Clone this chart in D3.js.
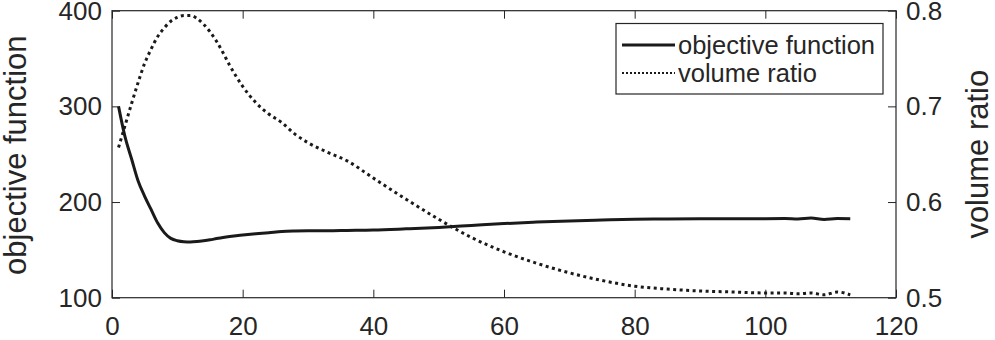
<!DOCTYPE html>
<html lang="en">
<head>
<meta charset="utf-8">
<title>objective function and volume ratio</title>
<script src="https://cdn.jsdelivr.net/npm/d3@7"></script>
<style>
  body { margin: 0; background: #fff; }
  svg text { font-family: "Liberation Sans", Arial, Helvetica, sans-serif; fill: #262626; }
</style>
</head>
<body>
<script>
    var iterations = [1, 2, 3, 4, 5, 6, 7, 8, 9, 10, 11, 12, 13, 14, 15, 16, 17, 18, 20, 22, 24, 26, 28, 30,
                      33, 36, 40, 45, 50, 55, 60, 65, 70, 75, 80, 85, 90, 95, 100, 103, 105, 107, 109, 111, 113];

    var objective = [300, 268, 245, 222, 206, 192, 178, 168, 162, 159.5, 158.5, 158.3, 158.7, 159.5, 160.5, 161.8, 163, 164,
                     165.5, 166.8, 168, 169.3, 169.8, 170, 170, 170.3, 170.7, 172, 173.5, 175.5, 177.5, 179, 180.3, 181.2,
                     182, 182.3, 182.5, 182.6, 182.6, 182.7, 182.2, 183.2, 181.8, 182.8, 182.6];

    var volumeRatio = [0.657, 0.680, 0.703, 0.725, 0.745, 0.760, 0.773, 0.782, 0.789, 0.793, 0.795, 0.795, 0.792, 0.786,
                       0.778, 0.768, 0.756, 0.743, 0.721, 0.704, 0.692, 0.683, 0.671, 0.662, 0.652, 0.643, 0.625, 0.603,
                       0.582, 0.563, 0.548, 0.536, 0.526, 0.518, 0.512, 0.509, 0.507, 0.506, 0.505, 0.505, 0.504, 0.505,
                       0.503, 0.506, 0.503];

    var xTicks = [0, 20, 40, 60, 80, 100, 120];
    var leftTicks = [100, 200, 300, 400];
    var rightTicks = [0.5, 0.6, 0.7, 0.8];

    var seriesNames = ["objective function", "volume ratio"];

    var w = 995, h = 340;
    var plotLeft = 112, plotRight = 896, plotTop = 10.7, plotBottom = 297.7;
    var ink = "#262626";

    var svg = d3.select("body").append("svg")
                .attr("width", w)
                .attr("height", h);

    var xScale = d3.scaleLinear().domain([0, 120]).range([plotLeft, plotRight]);
    var yLeft = d3.scaleLinear().domain([100, 400]).range([plotBottom, plotTop]);
    var yRight = d3.scaleLinear().domain([0.5, 0.8]).range([plotBottom, plotTop]);

    // axes, ticks pointing inward
    function styleAxis(g) {
        g.select(".domain").remove();
        g.selectAll("line").attr("stroke", ink).attr("stroke-width", 1);
        g.selectAll("text").attr("font-size", "26px").attr("fill", ink);
    }

    svg.append("g")
       .attr("transform", "translate(0," + plotBottom + ")")
       .call(d3.axisBottom(xScale).tickValues(xTicks).tickSize(-8).tickPadding(19).tickFormat(d3.format("d")))
       .call(styleAxis);

    svg.append("g")
       .attr("transform", "translate(0," + plotTop + ")")
       .call(d3.axisTop(xScale).tickValues(xTicks).tickSize(-8).tickFormat(""))
       .call(styleAxis);

    svg.append("g")
       .attr("transform", "translate(" + plotLeft + ",0)")
       .call(d3.axisLeft(yLeft).tickValues(leftTicks).tickSize(-8).tickPadding(10).tickFormat(d3.format("d")))
       .call(styleAxis);

    svg.append("g")
       .attr("transform", "translate(" + plotRight + ",0)")
       .call(d3.axisRight(yRight).tickValues(rightTicks).tickSize(-8).tickPadding(10).tickFormat(d3.format(".1f")))
       .call(styleAxis);

    // box
    svg.append("rect")
       .attr("x", plotLeft).attr("y", plotTop)
       .attr("width", plotRight - plotLeft).attr("height", plotBottom - plotTop)
       .attr("fill", "none").attr("stroke", ink).attr("stroke-width", 1.2);

    // lines
    var objLine = d3.line()
                    .x(function(d, i) { return xScale(iterations[i]); })
                    .y(function(d) { return yLeft(d); })
                    .curve(d3.curveMonotoneX);

    var volLine = d3.line()
                    .x(function(d, i) { return xScale(iterations[i]); })
                    .y(function(d) { return yRight(d); })
                    .curve(d3.curveMonotoneX);

    svg.append("path")
       .attr("d", objLine(objective))
       .attr("fill", "none").attr("stroke", "#1a1a1a").attr("stroke-width", 3);

    svg.append("path")
       .attr("d", volLine(volumeRatio))
       .attr("fill", "none").attr("stroke", "#1a1a1a").attr("stroke-width", 3)
       .attr("stroke-dasharray", "3,3.5");

    // axis labels
    svg.append("text")
       .attr("transform", "translate(26," + ((plotTop + plotBottom) / 2 + 1) + ") rotate(-90)")
       .attr("text-anchor", "middle")
       .attr("font-size", "31px")
       .text("objective function");

    svg.append("text")
       .attr("transform", "translate(988," + ((plotTop + plotBottom) / 2) + ") rotate(-90)")
       .attr("text-anchor", "middle")
       .attr("font-size", "31px")
       .text("volume ratio");

    // legend
    var legend = svg.append("g");
    legend.append("rect")
          .attr("x", 616).attr("y", 23.5)
          .attr("width", 267).attr("height", 70.5)
          .attr("fill", "#fff").attr("stroke", ink).attr("stroke-width", 1.2);

    var rows = legend.selectAll("g.row")
                     .data(seriesNames)
                     .enter()
                     .append("g")
                     .attr("class", "row")
                     .attr("transform", function(d, i) { return "translate(0," + (45 + i * 28) + ")"; });

    rows.append("line")
        .attr("x1", 622).attr("x2", 675)
        .attr("stroke", "#1a1a1a")
        .attr("stroke-width", function(d, i) { return i === 0 ? 3 : 2; })
        .attr("stroke-dasharray", function(d, i) { return i === 0 ? null : "2,2"; });

    rows.append("text")
        .attr("x", 678)
        .attr("dy", "0.36em")
        .attr("font-size", "25.5px")
        .text(function(d) { return d; });
</script>
</body>
</html>
